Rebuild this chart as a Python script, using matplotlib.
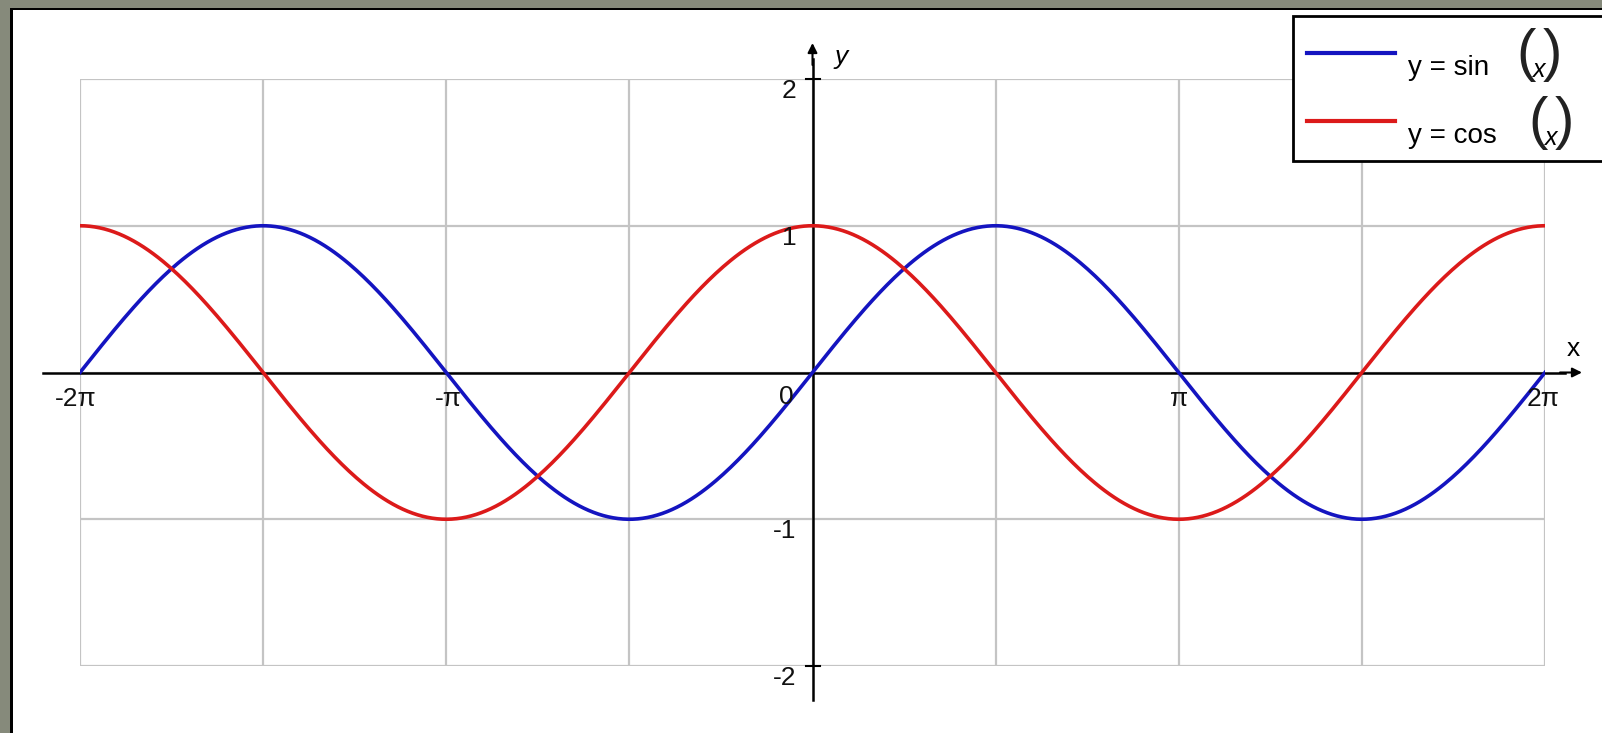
import numpy as np
import matplotlib
matplotlib.use("Agg")
import matplotlib.pyplot as plt
from matplotlib.patches import Rectangle

plt.rcParams['font.family'] = ['Liberation Sans', 'DejaVu Sans']

# ---- data ----
x_min, x_max = -2 * np.pi, 2 * np.pi
y_min, y_max = -2, 2
x = np.linspace(x_min, x_max, 600)
sin_vals = np.sin(x)
cos_vals = np.cos(x)
x_tick_vals = [-2 * np.pi, -np.pi, 0, np.pi, 2 * np.pi]
x_tick_labels = ['-2π', '-π', '0', 'π', '2π']
y_tick_vals = [2, 1, -1, -2]
y_tick_labels = ['2', '1', '-1', '-2']
x_grid = np.arange(-4, 5) * np.pi / 2
y_grid = [-2, -1, 0, 1, 2]
series_names = ['y = sin', 'y = cos']

W, H = 1602, 733
fig = plt.figure(figsize=(W / 100, H / 100), dpi=100)
fig.patch.set_facecolor('white')

# frame (gray strip top and left with black inner line)
frame_col = '#868a7b'
fig.patches.append(Rectangle((0, 1 - 8 / H), 1, 8 / H, transform=fig.transFigure,
                             facecolor=frame_col, edgecolor='none', zorder=0))
fig.patches.append(Rectangle((0, 0), 10 / W, 1, transform=fig.transFigure,
                             facecolor=frame_col, edgecolor='none', zorder=0))
fig.patches.append(Rectangle((10 / W, 0), 2.5 / W, 1 - 8 / H, transform=fig.transFigure,
                             facecolor='black', edgecolor='none', zorder=0))
fig.patches.append(Rectangle((10 / W, 1 - 10 / H), 1, 2 / H, transform=fig.transFigure,
                             facecolor='black', edgecolor='none', zorder=0))

# axes placed on the grid region
L, R, T, B = 80, 1545, 79, 666
ax = fig.add_axes([L / W, 1 - B / H, (R - L) / W, (B - T) / H])
ax.set_xlim(x_min, x_max)
ax.set_ylim(y_min, y_max)
ax.axis('off')

grid_col = '#c4c4c4'
for gx in x_grid:
    ax.plot([gx, gx], [y_min, y_max], color=grid_col, lw=1.6, zorder=1)
for gy in y_grid:
    ax.plot([x_min, x_max], [gy, gy], color=grid_col, lw=1.6, zorder=1)

# axes lines with arrows (extend beyond grid)
px_x = (R - L) / (x_max - x_min)
px_y = (B - T) / (y_max - y_min)
ax.plot([x_min - 37 / px_x, x_max + 20 / px_x], [0, 0], color='black', lw=1.8,
        clip_on=False, zorder=3)
ax.annotate('', xy=(x_max + 37 / px_x, 0), xytext=(x_max + 15 / px_x, 0),
            arrowprops=dict(arrowstyle='-|>', color='black', lw=1.5,
                            mutation_scale=14, shrinkA=0, shrinkB=0),
            annotation_clip=False, zorder=3)
ax.plot([0, 0], [y_min - 34 / px_y, y_max + 20 / px_y], color='black', lw=1.8,
        clip_on=False, zorder=3)
ax.annotate('', xy=(0, y_max + 36 / px_y), xytext=(0, y_max + 14 / px_y),
            arrowprops=dict(arrowstyle='-|>', color='black', lw=1.5,
                            mutation_scale=14, shrinkA=0, shrinkB=0),
            annotation_clip=False, zorder=3)
# small ticks on y axis at +-2
for v in [y_min, y_max]:
    ax.plot([-7 / px_x, 7 / px_x], [v, v], color='black', lw=1.5, clip_on=False, zorder=3)

# curves
blue = '#1414c0'
red = '#dc1a1a'
ax.plot(x, sin_vals, color=blue, lw=2.6, zorder=4)
ax.plot(x, cos_vals, color=red, lw=2.6, zorder=4)

fs = 19
# x tick labels
x_offsets = [(-4, -27), (2, -27), (-26, -24), (0, -27), (-2, -27)]
for v, lab, off in zip(x_tick_vals, x_tick_labels, x_offsets):
    ax.annotate(lab, xy=(v, 0), xytext=off, textcoords='offset pixels',
                ha='center', va='center', fontsize=fs, color='#111111',
                annotation_clip=False, zorder=5)
# y tick labels
for v, lab in zip(y_tick_vals, y_tick_labels):
    ax.annotate(lab, xy=(0, v), xytext=(-16, -12), textcoords='offset pixels',
                ha='right', va='center', fontsize=fs, color='#111111',
                annotation_clip=False, zorder=5)
# axis names
ax.annotate('y', xy=(0, y_max), xytext=(29, 22), textcoords='offset pixels',
            ha='center', va='center', fontsize=fs, style='italic',
            annotation_clip=False)
ax.annotate('x', xy=(x_max, 0), xytext=(28, 24), textcoords='offset pixels',
            ha='center', va='center', fontsize=fs, annotation_clip=False)

# legend (custom box running off the right edge)
fig.patches.append(Rectangle((1293 / W, 1 - 161 / H), (W - 1293 + 10) / W, 145 / H,
                             transform=fig.transFigure, facecolor='white',
                             edgecolor='black', lw=2, zorder=6))
def fx(p):
    return p / W
def fy(p):
    return 1 - p / H
legend_rows = [(53, 68, blue, series_names[0], 1516, 1562),
               (121, 136, red, series_names[1], 1528, 1574)]
for ly, ty, col, name, p1, p2 in legend_rows:
    fig.add_artist(plt.Line2D([fx(1307), fx(1395)], [fy(ly), fy(ly)], color=col,
                              lw=3, transform=fig.transFigure, zorder=7))
    fig.text(fx(1408), fy(ty), name, ha='left', va='center', fontsize=20, zorder=7)
    fig.text(fx(p1), fy(ty - 13), '(', ha='left', va='center', fontsize=42,
             fontweight='light', color='#222222', zorder=7)
    fig.text(fx((p1 + p2) / 2), fy(ty + 2), 'x', ha='center', va='center',
             fontsize=18, style='italic', zorder=7)
    fig.text(fx(p2), fy(ty - 13), ')', ha='right', va='center', fontsize=42,
             fontweight='light', color='#222222', zorder=7)

fig.savefig('out.png', dpi=100, facecolor='white')
